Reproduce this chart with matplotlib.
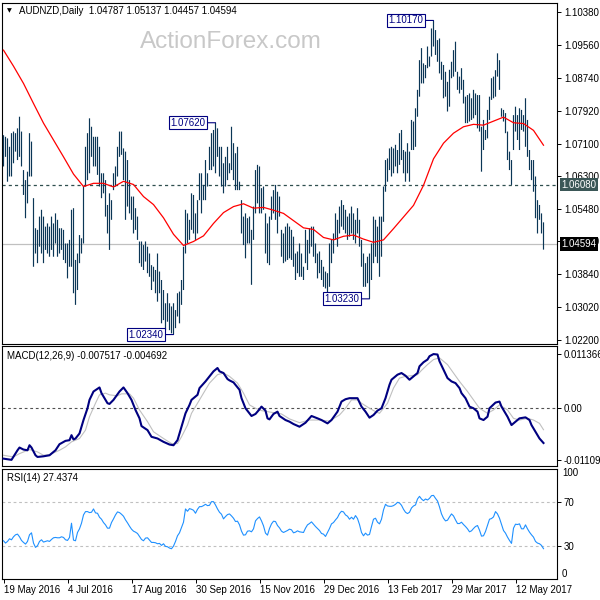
import numpy as np
import matplotlib
matplotlib.use("Agg")
import matplotlib.pyplot as plt
from matplotlib.transforms import blended_transform_factory

plt.rcParams['font.family'] = ['Liberation Sans', 'DejaVu Sans']

symbol = "AUDNZD,Daily"
last_ohlc = [1.04787, 1.05137, 1.04457, 1.04594]

high = [
    1.0731, 1.0727, 1.0723, 1.0702, 1.0736, 1.0740, 1.0736, 1.0748, 1.0777, 1.0740,
    1.0644, 1.0619, 1.0640, 1.0736, 1.0715, 1.0574, 1.0499, 1.0495, 1.0528, 1.0545,
    1.0528, 1.0503, 1.0511, 1.0503, 1.0528, 1.0511, 1.0536, 1.0520, 1.0499, 1.0499,
    1.0495, 1.0461, 1.0461, 1.0470, 1.0545, 1.0549, 1.0420, 1.0436, 1.0482, 1.0474,
    1.0603, 1.0702, 1.0736, 1.0773, 1.0752, 1.0727, 1.0727, 1.0727, 1.0702, 1.0636,
    1.0636, 1.0619, 1.0557, 1.0586, 1.0569, 1.0636, 1.0653, 1.0702, 1.0740, 1.0740,
    1.0698, 1.0690, 1.0669, 1.0619, 1.0578, 1.0578, 1.0549, 1.0528, 1.0466, 1.0466,
    1.0457, 1.0466, 1.0453, 1.0436, 1.0407, 1.0403, 1.0395, 1.0436, 1.0391, 1.0370,
    1.0345, 1.0312, 1.0337, 1.0312, 1.0304, 1.0312, 1.0295, 1.0337, 1.0341, 1.0370,
    1.0453, 1.0545, 1.0536, 1.0520, 1.0586, 1.0582, 1.0536, 1.0569, 1.0636, 1.0636,
    1.0607, 1.0669, 1.0636, 1.0702, 1.0736, 1.0744, 1.0762, 1.0748, 1.0702, 1.0702,
    1.0661, 1.0677, 1.0702, 1.0661, 1.0752, 1.0711, 1.0686, 1.0702, 1.0615, 1.0569,
    1.0528, 1.0536, 1.0524, 1.0528, 1.0495, 1.0553, 1.0644, 1.0657, 1.0653, 1.0599,
    1.0603, 1.0536, 1.0511, 1.0528, 1.0578, 1.0594, 1.0607, 1.0590, 1.0578, 1.0495,
    1.0486, 1.0503, 1.0511, 1.0503, 1.0495, 1.0478, 1.0436, 1.0441, 1.0461, 1.0436,
    1.0403, 1.0495, 1.0470, 1.0499, 1.0503, 1.0503, 1.0461, 1.0436, 1.0441, 1.0420,
    1.0403, 1.0391, 1.0387, 1.0461, 1.0470, 1.0486, 1.0536, 1.0520, 1.0553, 1.0569,
    1.0557, 1.0545, 1.0528, 1.0536, 1.0553, 1.0536, 1.0520, 1.0549, 1.0520, 1.0470,
    1.0436, 1.0412, 1.0428, 1.0436, 1.0461, 1.0528, 1.0520, 1.0503, 1.0528, 1.0528,
    1.0603, 1.0669, 1.0673, 1.0698, 1.0702, 1.0698, 1.0707, 1.0694, 1.0736, 1.0744,
    1.0694, 1.0690, 1.0711, 1.0690, 1.0769, 1.0765, 1.0798, 1.0844, 1.0918, 1.0948,
    1.0910, 1.0906, 1.0952, 1.0927, 1.0997, 1.1017, 1.0993, 1.0968, 1.0972, 1.0914,
    1.0906, 1.0889, 1.0864, 1.0894, 1.0914, 1.0943, 1.0964, 1.0889, 1.0877, 1.0898,
    1.0869, 1.0827, 1.0831, 1.0835, 1.0823, 1.0844, 1.0835, 1.0831, 1.0831, 1.0752,
    1.0769, 1.0744, 1.0794, 1.0827, 1.0873, 1.0877, 1.0893, 1.0935, 1.0918, 1.0798,
    1.0794, 1.0786, 1.0740, 1.0690, 1.0669, 1.0781, 1.0802, 1.0781, 1.0798, 1.0794,
    1.0781, 1.0823, 1.0769, 1.0694, 1.0669, 1.0669, 1.0628, 1.0569, 1.0557, 1.0536, 1.05137,
]

low = [
    1.0653, 1.0677, 1.0615, 1.0628, 1.0628, 1.0661, 1.0690, 1.0669, 1.0677, 1.0653,
    1.0582, 1.0524, 1.0561, 1.0628, 1.0628, 1.0403, 1.0436, 1.0412, 1.0453, 1.0436,
    1.0412, 1.0445, 1.0436, 1.0428, 1.0445, 1.0428, 1.0461, 1.0428, 1.0436, 1.0445,
    1.0420, 1.0412, 1.0374, 1.0403, 1.0403, 1.0337, 1.0308, 1.0345, 1.0412, 1.0436,
    1.0461, 1.0603, 1.0619, 1.0636, 1.0677, 1.0653, 1.0653, 1.0632, 1.0603, 1.0574,
    1.0586, 1.0528, 1.0486, 1.0445, 1.0520, 1.0594, 1.0603, 1.0628, 1.0677, 1.0682,
    1.0619, 1.0520, 1.0553, 1.0536, 1.0520, 1.0486, 1.0495, 1.0470, 1.0412, 1.0403,
    1.0395, 1.0416, 1.0387, 1.0378, 1.0345, 1.0366, 1.0337, 1.0316, 1.0337, 1.0262,
    1.0270, 1.0245, 1.0266, 1.0245, 1.0237, 1.0234, 1.0250, 1.0279, 1.0262, 1.0308,
    1.0345, 1.0436, 1.0461, 1.0470, 1.0495, 1.0486, 1.0470, 1.0486, 1.0569, 1.0536,
    1.0569, 1.0569, 1.0603, 1.0644, 1.0644, 1.0653, 1.0636, 1.0677, 1.0628, 1.0603,
    1.0586, 1.0603, 1.0619, 1.0636, 1.0644, 1.0619, 1.0594, 1.0594, 1.0594, 1.0486,
    1.0457, 1.0424, 1.0461, 1.0461, 1.0358, 1.0470, 1.0536, 1.0561, 1.0536, 1.0536,
    1.0545, 1.0436, 1.0412, 1.0407, 1.0520, 1.0536, 1.0520, 1.0486, 1.0528, 1.0428,
    1.0412, 1.0416, 1.0420, 1.0424, 1.0420, 1.0403, 1.0370, 1.0387, 1.0378, 1.0378,
    1.0370, 1.0412, 1.0395, 1.0436, 1.0453, 1.0428, 1.0412, 1.0374, 1.0387, 1.0370,
    1.0353, 1.0349, 1.0333, 1.0353, 1.0412, 1.0436, 1.0470, 1.0453, 1.0486, 1.0503,
    1.0495, 1.0486, 1.0470, 1.0478, 1.0486, 1.0470, 1.0461, 1.0486, 1.0453, 1.0403,
    1.0353, 1.0353, 1.0362, 1.0323, 1.0370, 1.0412, 1.0428, 1.0412, 1.0378, 1.0428,
    1.0515, 1.0590, 1.0615, 1.0644, 1.0628, 1.0636, 1.0653, 1.0636, 1.0657, 1.0669,
    1.0636, 1.0615, 1.0636, 1.0615, 1.0694, 1.0694, 1.0702, 1.0777, 1.0827, 1.0860,
    1.0860, 1.0873, 1.0898, 1.0902, 1.0927, 1.0952, 1.0931, 1.0914, 1.0885, 1.0869,
    1.0823, 1.0827, 1.0790, 1.0802, 1.0873, 1.0877, 1.0889, 1.0844, 1.0835, 1.0844,
    1.0810, 1.0761, 1.0761, 1.0765, 1.0769, 1.0773, 1.0781, 1.0748, 1.0740, 1.0640,
    1.0694, 1.0719, 1.0723, 1.0769, 1.0819, 1.0823, 1.0827, 1.0877, 1.0844, 1.0777,
    1.0765, 1.0736, 1.0669, 1.0644, 1.0607, 1.0694, 1.0740, 1.0719, 1.0694, 1.0744,
    1.0740, 1.0702, 1.0677, 1.0644, 1.0619, 1.0590, 1.0524, 1.0486, 1.0520, 1.0486, 1.04457,
]

# moving average, read every 5 bars
ma_step = 5
ma_values = [
    1.0943, 1.0903, 1.0860, 1.0810, 1.0761, 1.0719, 1.0677, 1.0634, 1.0603, 1.0611,
    1.0611, 1.0602, 1.0616, 1.0608, 1.0578, 1.0558, 1.0525, 1.0484, 1.0456, 1.0466,
    1.0480, 1.0511, 1.0538, 1.0553, 1.0560, 1.0549, 1.0551, 1.0544, 1.0536, 1.0518,
    1.0500, 1.0496, 1.0476, 1.0470, 1.0479, 1.0482, 1.0472, 1.0464, 1.0470, 1.0498,
    1.0527, 1.0556, 1.0606, 1.0672, 1.0711, 1.0736, 1.0752, 1.0758, 1.0756, 1.0766,
    1.0776, 1.0762, 1.0760, 1.0743, 1.0706,
]

macd_idx = [
    0, 4, 7, 8, 10, 12, 13, 14, 16, 17,
    20, 23, 26, 28, 31, 33, 34, 35, 36, 38,
    40, 42, 43, 45, 48, 49, 51, 52, 53, 55,
    58, 60, 62, 64, 66, 68, 69, 72, 74, 77,
    80, 83, 85, 87, 89, 91, 93, 94, 97, 98,
    101, 103, 105, 107, 108, 110, 112, 113, 115, 118,
    119, 121, 123, 124, 126, 128, 129, 131, 132, 133,
    135, 137, 138, 141, 143, 145, 148, 151, 154, 157,
    159, 162, 164, 167, 169, 171, 173, 177, 179, 181,
    183, 185, 187, 189, 191, 193, 194, 197, 199, 201,
    203, 205, 207, 208, 210, 212, 213, 215, 217, 218,
    220, 222, 224, 226, 228, 229, 231, 233, 235, 237,
    238, 240, 242, 243, 246, 248, 249, 252, 254, 256,
    258, 261, 263, 264, 266, 268, 270,
]
macd_val = [
    -0.01084, -0.011094, -0.00906, -0.00848, -0.00891, -0.00906, -0.00799, -0.00848, -0.01012, -0.01048,
    -0.01034, -0.01012, -0.00906, -0.00777, -0.00706, -0.00692, -0.00585, -0.00677, -0.00656, -0.00549,
    -0.00264, -0.00014, 0.00164, 0.00342, 0.00428, 0.00307, 0.00164, 0.00093, 0.00078, 0.00164,
    0.00342, 0.00428, 0.00307, 0.00164, -0.00050, -0.00228, -0.00392, -0.00478, -0.00620, -0.00656,
    -0.00727, -0.00784, -0.00799, -0.00692, -0.00406, -0.00121, 0.00057, 0.00164, 0.00271, 0.00414,
    0.00556, 0.00663, 0.00770, 0.00841, 0.00770, 0.00734, 0.00606, 0.00578, 0.00535, 0.00378,
    0.00200, -0.00014, -0.00121, -0.00178, -0.00135, -0.00036, 0.00021, -0.00064, -0.00228, -0.00250,
    -0.00135, -0.00086, -0.00178, -0.00264, -0.00299, -0.00349, -0.00406, -0.00321, -0.00178, -0.00228,
    -0.00264, -0.00335, -0.00264, -0.00086, 0.00128, 0.00178, 0.00200, 0.00200, 0.00021, -0.00086,
    -0.00214, -0.00157, -0.00064, -0.00014, 0.00200, 0.00485, 0.00592, 0.00699, 0.00734, 0.00677,
    0.00592, 0.00663, 0.00734, 0.00877, 0.00963, 0.01020, 0.01091, 0.011366, 0.01127, 0.00984,
    0.00806, 0.00627, 0.00556, 0.00520, 0.00414, 0.00307, 0.00200, 0.00021, -0.00014, -0.00086,
    -0.00228, -0.00264, -0.00193, -0.00014, 0.00107, 0.00128, 0.00021, -0.00193, -0.00371, -0.00299,
    -0.00228, -0.00207, -0.00264, -0.00371, -0.00513, -0.00656, -0.007517,
]

sig_idx = [
    0, 5, 8, 13, 17, 20, 23, 28, 31, 34,
    38, 41, 43, 46, 48, 51, 53, 57, 59, 63,
    65, 68, 72, 75, 80, 84, 87, 89, 92, 94,
    97, 100, 103, 107, 110, 113, 117, 120, 123, 126,
    129, 132, 135, 139, 143, 148, 153, 158, 163, 168,
    171, 174, 177, 179, 183, 186, 188, 192, 195, 198,
    201, 204, 207, 209, 212, 215, 218, 222, 225, 228,
    232, 235, 238, 242, 245, 248, 252, 255, 258, 262,
    265, 268, 270,
]
sig_val = [
    -0.01012, -0.01048, -0.00977, -0.00891, -0.00941, -0.01012, -0.00998, -0.00906, -0.00834, -0.00727,
    -0.00656, -0.00478, -0.00193, 0.00093, 0.00271, 0.00307, 0.00271, 0.00250, 0.00292, 0.00292,
    0.00200, -0.00050, -0.00299, -0.00513, -0.00656, -0.00763, -0.00763, -0.00620, -0.00371, -0.00121,
    0.00093, 0.00307, 0.00520, 0.00699, 0.00734, 0.00663, 0.00520, 0.00307, 0.00057, -0.00014,
    -0.00064, -0.00086, -0.00107, -0.00135, -0.00240, -0.00320, -0.00264, -0.00264, -0.00285, -0.00157,
    -0.00014, 0.00164, 0.00164, 0.00093, -0.00014, -0.00086, -0.00121, 0.00093, 0.00414, 0.00627,
    0.00663, 0.00677, 0.00699, 0.00791, 0.00913, 0.01020, 0.01055, 0.00913, 0.00734, 0.00556,
    0.00342, 0.00164, -0.00014, -0.00121, -0.00050, 0.00057, -0.00050, -0.00228, -0.00264, -0.00228,
    -0.00264, -0.00335, -0.004692,
]

rsi = [
    34.6, 32.5, 34.0, 36.4, 35.5, 38.2, 40.0, 40.6, 38.2, 34.9,
    33.1, 31.6, 34.0, 40.0, 41.8, 32.5, 28.6, 30.1, 34.0, 35.5,
    33.4, 34.0, 34.6, 34.0, 35.8, 37.3, 37.6, 37.3, 37.3, 38.2,
    37.6, 35.5, 34.9, 37.6, 50.5, 35.2, 34.6, 42.1, 45.4, 50.5,
    58.0, 61.0, 61.0, 60.1, 60.4, 63.4, 59.8, 59.5, 55.9, 54.1,
    51.1, 49.0, 46.0, 46.0, 51.1, 54.4, 58.0, 60.7, 60.1, 58.6,
    56.8, 53.5, 50.8, 47.8, 45.1, 43.3, 42.4, 41.2, 38.5, 35.8,
    34.6, 37.0, 37.3, 35.2, 33.1, 33.1, 32.8, 31.9, 32.2, 30.4,
    31.9, 29.5, 29.2, 28.0, 27.4, 29.8, 34.0, 39.1, 41.8, 46.6,
    51.4, 63.4, 61.3, 63.7, 63.1, 62.2, 59.5, 63.1, 65.5, 65.5,
    66.4, 67.6, 66.4, 66.7, 70.0, 70.0, 67.0, 63.4, 60.4, 58.6,
    54.4, 56.5, 58.3, 58.9, 57.1, 55.0, 52.0, 52.3, 49.0, 43.3,
    39.7, 40.0, 43.3, 43.6, 42.7, 45.4, 52.6, 54.7, 56.2, 52.6,
    48.1, 41.5, 39.7, 45.7, 49.9, 52.3, 52.0, 48.4, 46.3, 43.3,
    42.1, 43.0, 43.9, 45.1, 44.5, 41.8, 42.4, 43.6, 42.7, 42.4,
    42.1, 46.0, 49.0, 50.2, 51.7, 49.6, 47.5, 45.7, 43.9, 41.2,
    40.6, 38.5, 42.1, 45.7, 49.9, 51.1, 53.5, 55.6, 59.2, 61.3,
    60.7, 58.0, 56.8, 54.1, 55.9, 54.1, 57.4, 54.7, 49.3, 42.1,
    39.1, 41.5, 39.7, 40.3, 47.5, 54.1, 55.0, 51.4, 49.9, 54.1,
    62.5, 67.6, 66.1, 65.8, 65.8, 66.4, 67.6, 69.4, 68.8, 66.7,
    63.1, 60.4, 59.2, 60.4, 64.3, 66.1, 67.0, 72.4, 74.8, 72.4,
    70.9, 72.4, 71.5, 73.0, 75.4, 75.7, 73.0, 70.6, 65.2, 58.9,
    55.0, 52.6, 53.2, 56.2, 58.9, 57.1, 53.5, 50.2, 50.2, 51.4,
    49.3, 47.5, 45.4, 42.7, 43.6, 45.7, 47.5, 48.4, 44.2, 38.8,
    39.1, 43.0, 48.7, 54.1, 54.7, 56.2, 61.0, 58.9, 55.0, 49.3,
    43.9, 41.5, 37.9, 34.9, 32.2, 46.0, 49.6, 49.3, 49.9, 45.4,
    45.4, 49.0, 45.4, 42.4, 40.0, 37.9, 34.0, 32.5, 31.9, 30.4, 27.4374,
]

date_labels = ["19 May 2016", "4 Jul 2016", "17 Aug 2016", "30 Sep 2016", "15 Nov 2016",
               "29 Dec 2016", "13 Feb 2017", "29 Mar 2017", "12 May 2017"]
label_step = 32
price_ticks = [1.10380, 1.09560, 1.08740, 1.07920, 1.07100, 1.06300, 1.05480,
               1.04660, 1.03840, 1.03020, 1.02200]
level_line = 1.06080
macd_ticks = [0.011366, 0.0, -0.011094]
macd_tick_labels = ["0.011366", "0.00", "-0.011094"]
rsi_levels = [70, 30]
marked_highs = [1.07620, 1.10170]
marked_lows = [1.02340, 1.03230]

# ---------------------------------------------------------------
W, H = 600, 600
fig = plt.figure(figsize=(6, 6), dpi=100)
fig.patch.set_facecolor("white")

def rect(top, bottom, left=2, right=557):
    return [left / W, 1 - bottom / H, (right - left) / W, (bottom - top) / H]

ax = fig.add_axes(rect(3, 343.5))
axm = fig.add_axes(rect(346, 466))
axr = fig.add_axes(rect(468.5, 579))

n = len(high)
x = np.arange(n)
high_a = np.array(high)
low_a = np.array(low)

# 2 px per bar; bar centres land on pixel centres
XMIN, XMAX = -0.75, 276.75

for a in (ax, axm, axr):
    a.set_xlim(XMIN, XMAX)
    a.set_facecolor("white")
    for s in a.spines.values():
        s.set_linewidth(0.8)
        s.set_color("black")
    a.yaxis.tick_right()
    a.tick_params(axis="y", direction="out", length=3, width=0.7, labelsize=7, pad=2,
                  colors="black")
    a.tick_params(axis="x", bottom=False, labelbottom=False)

# ---------- main price panel ----------
bar_color = "#0B3656"
ax.vlines(x, low_a, high_a, color=bar_color, linewidth=0.85, antialiased=True,
          snap=False, zorder=3)
ma_x = np.arange(0, n, ma_step)[:len(ma_values)]
ax.plot(ma_x, ma_values, color="#FF0000", lw=0.9, zorder=4)
ax.axhline(level_line, color="#2F4F4F", lw=0.9, ls=(0, (2.5, 2.5)), zorder=2)
ax.axhline(last_ohlc[3], color="#C0C0C0", lw=0.9, zorder=1)
ax.set_ylim(1.02117, 1.10605)
ax.set_yticks(price_ticks, [f"{v:.5f}" for v in price_ticks])

bt = blended_transform_factory(ax.transAxes, ax.transData)
ax.text((561.5 - 2) / 555, level_line, f"{level_line:.5f}", transform=bt, color="white",
        fontsize=7, ha="left", va="center", clip_on=False, zorder=10,
        bbox=dict(boxstyle="square,pad=0.2", fc="#3B5757", ec="none"))
ax.text((561.5 - 2) / 555, last_ohlc[3], f"{last_ohlc[3]:.5f}", transform=bt, color="white",
        fontsize=7, ha="left", va="center", clip_on=False, zorder=10,
        bbox=dict(boxstyle="square,pad=0.2", fc="black", ec="none"))

def mark(idx, val):
    ax.annotate(f"{val:.5f}", xy=(idx, val), xytext=(-7.2, 0), textcoords="offset points",
                ha="right", va="center", fontsize=7, color="#000080", zorder=8,
                bbox=dict(boxstyle="square,pad=0.15", fc="white", ec="#000080", lw=0.8),
                arrowprops=dict(arrowstyle="-", color="#000080", lw=0.8, shrinkA=0, shrinkB=0))

for v in marked_highs:
    mark(int(np.argmin(np.abs(high_a - v))), v)
for v in marked_lows:
    mark(int(np.argmin(np.abs(low_a - v))), v)

# header & watermark
ax.text((140 - 2) / 555, 0.885, "ActionForex.com", transform=ax.transAxes,
        fontsize=17.5, color="#C8C8C8", ha="left", va="center", zorder=0)
fig.text(7 / W, 1 - 11 / H, "\u25BC", fontsize=4.5, color="black", ha="left", va="center",
         family="DejaVu Sans")
fig.text(19 / W, 1 - 11 / H,
         f"{symbol}  " + " ".join(f"{v:.5f}" for v in last_ohlc),
         fontsize=7, color="black", ha="left", va="center")

# ---------- MACD panel ----------
axm.plot(sig_idx, sig_val, color="#C0C0C0", lw=0.8, zorder=2)
axm.plot(macd_idx, macd_val, color="#000080", lw=1.5, zorder=3)
axm.axhline(0, color="#505050", lw=0.8, ls=(0, (2.5, 2.5)), zorder=1)
axm.set_ylim(-0.01240, 0.01308)
axm.set_yticks(macd_ticks, macd_tick_labels)
fig.text(7 / W, 1 - 356 / H,
         f"MACD(12,26,9) {macd_val[-1]:.6f} {sig_val[-1]:.6f}",
         fontsize=7, color="black", ha="left", va="center")

# ---------- RSI panel ----------
axr.plot(x, rsi, color="#1E90FF", lw=0.8, zorder=3)
for lv in rsi_levels:
    axr.axhline(lv, color="#C0C0C0", lw=0.8, ls=(0, (2.5, 2.5)), zorder=1)
axr.set_ylim(0, 100)
axr.set_yticks(rsi_levels, [str(v) for v in rsi_levels])
bt_r = blended_transform_factory(axr.transAxes, axr.transData)
axr.text(1 + 5 / 555, 100, "100", transform=bt_r, fontsize=7, ha="left", va="top",
         clip_on=False)
axr.text(1 + 5 / 555, 0, "0", transform=bt_r, fontsize=7, ha="left", va="bottom",
         clip_on=False)
fig.text(7 / W, 1 - 478 / H, f"RSI(14) {rsi[-1]:.4f}",
         fontsize=7, color="black", ha="left", va="center")

tick_pos = np.arange(0, n, label_step)[:len(date_labels)]
axr.set_xticks(tick_pos, date_labels)
axr.tick_params(axis="x", bottom=True, labelbottom=True, direction="out", length=3,
                width=0.7, labelsize=7, pad=1)
for lbl in axr.get_xticklabels():
    lbl.set_horizontalalignment("left")

fig.savefig("out.png", dpi=100, facecolor="white")
